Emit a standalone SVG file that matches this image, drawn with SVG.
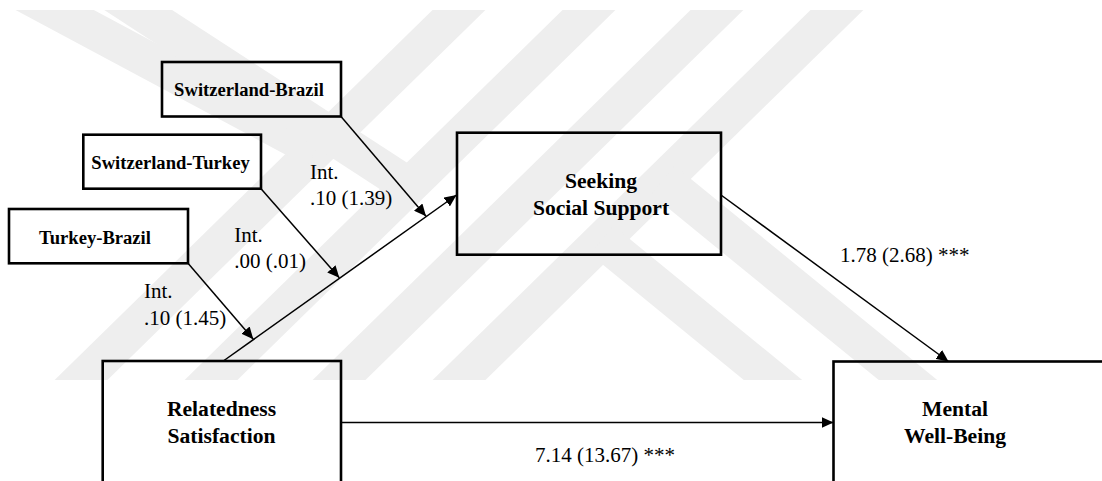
<svg xmlns="http://www.w3.org/2000/svg" width="1102" height="481" viewBox="0 0 1102 481">
<style>
.wm{stroke:#eeeeee;stroke-width:37;fill:none;stroke-linecap:butt}
.box{fill:none;stroke:#000;stroke-width:2.6}
.edge{stroke:#000;stroke-width:1.5;fill:none}
.bs{font-family:"Liberation Serif","Times New Roman",serif;font-weight:bold;font-size:18.6px;text-anchor:middle;fill:#000}
.bl{font-family:"Liberation Serif","Times New Roman",serif;font-weight:bold;font-size:21.6px;text-anchor:middle;fill:#000}
.lb{font-family:"Liberation Serif","Times New Roman",serif;font-size:21px;fill:#000}
</style>
<defs>
<clipPath id="wmclip"><rect x="0" y="10" width="1102" height="370"/></clipPath>
<marker id="arr" markerUnits="userSpaceOnUse" markerWidth="12" markerHeight="11" refX="12" refY="5.5" orient="auto">
<path d="M0,0 L12,5.5 L0,11 z" fill="#000"/>
</marker>
</defs>
<rect width="1102" height="481" fill="#fff"/>
<g id="watermark" clip-path="url(#wmclip)">
<line class="wm" x1="60.6" y1="400" x2="479.4" y2="-10"/>
<line class="wm" x1="190.6" y1="400" x2="609.4" y2="-10"/>
<line class="wm" x1="318.6" y1="400" x2="737.4" y2="-10"/>
<line class="wm" x1="438.6" y1="400" x2="857.4" y2="-10"/>
<line class="wm" x1="-20" y1="-30" x2="316" y2="150"/>
<line class="wm" x1="92" y1="-20" x2="409" y2="186"/>
<line class="wm" x1="663" y1="180" x2="932.5" y2="400"/>
<line class="wm" x1="601.8" y1="240" x2="797.5" y2="400"/>
</g>
<g id="connectors">
<line class="edge" x1="223.3" y1="361" x2="456.5" y2="195" marker-end="url(#arr)"/>
<line class="edge" x1="341" y1="116.5" x2="426" y2="216.2" marker-end="url(#arr)"/>
<line class="edge" x1="261" y1="188.7" x2="339.3" y2="277.8" marker-end="url(#arr)"/>
<line class="edge" x1="188" y1="263.3" x2="253.3" y2="339.2" marker-end="url(#arr)"/>
<line class="edge" x1="721" y1="195" x2="948.5" y2="361.5" marker-end="url(#arr)"/>
<line class="edge" x1="341" y1="422.5" x2="833.5" y2="422.5" marker-end="url(#arr)"/>
</g>
<g id="labels">
<text class="lb" x="310" y="179">Int.</text>
<text class="lb" x="310" y="205.3">.10 (1.39)</text>
<text class="lb" x="234.3" y="241.7">Int.</text>
<text class="lb" x="234.3" y="268.3">.00 (.01)</text>
<text class="lb" x="144" y="298.3">Int.</text>
<text class="lb" x="144" y="325">.10 (1.45)</text>
<text class="lb" x="840" y="261.5">1.78 (2.68) ***</text>
<text class="lb" x="535" y="462">7.14 (13.67) ***</text>
</g>
<g id="switzerland-brazil">
<rect class="box" x="162" y="62" width="179" height="54.5"/>
<text class="bs" x="249" y="95.7">Switzerland-Brazil</text>
</g>
<g id="switzerland-turkey">
<rect class="box" x="83.3" y="134.7" width="177.7" height="54"/>
<text class="bs" x="170.5" y="169.3">Switzerland-Turkey</text>
</g>
<g id="turkey-brazil">
<rect class="box" x="9" y="209" width="179" height="54.3"/>
<text class="bs" x="95" y="244.3">Turkey-Brazil</text>
</g>
<g id="seeking-social-support">
<rect class="box" x="457" y="132.7" width="264" height="122"/>
<text class="bl" x="601" y="188.3">Seeking</text>
<text class="bl" x="601" y="215">Social Support</text>
</g>
<g id="relatedness-satisfaction">
<rect class="box" x="102.7" y="361" width="238.3" height="140"/>
<text class="bl" x="221.5" y="416">Relatedness</text>
<text class="bl" x="221.5" y="442.7">Satisfaction</text>
</g>
<g id="mental-well-being">
<rect class="box" x="833.5" y="361.5" width="280" height="140"/>
<text class="bl" x="955" y="416">Mental</text>
<text class="bl" x="955" y="442.7">Well-Being</text>
</g>
</svg>
